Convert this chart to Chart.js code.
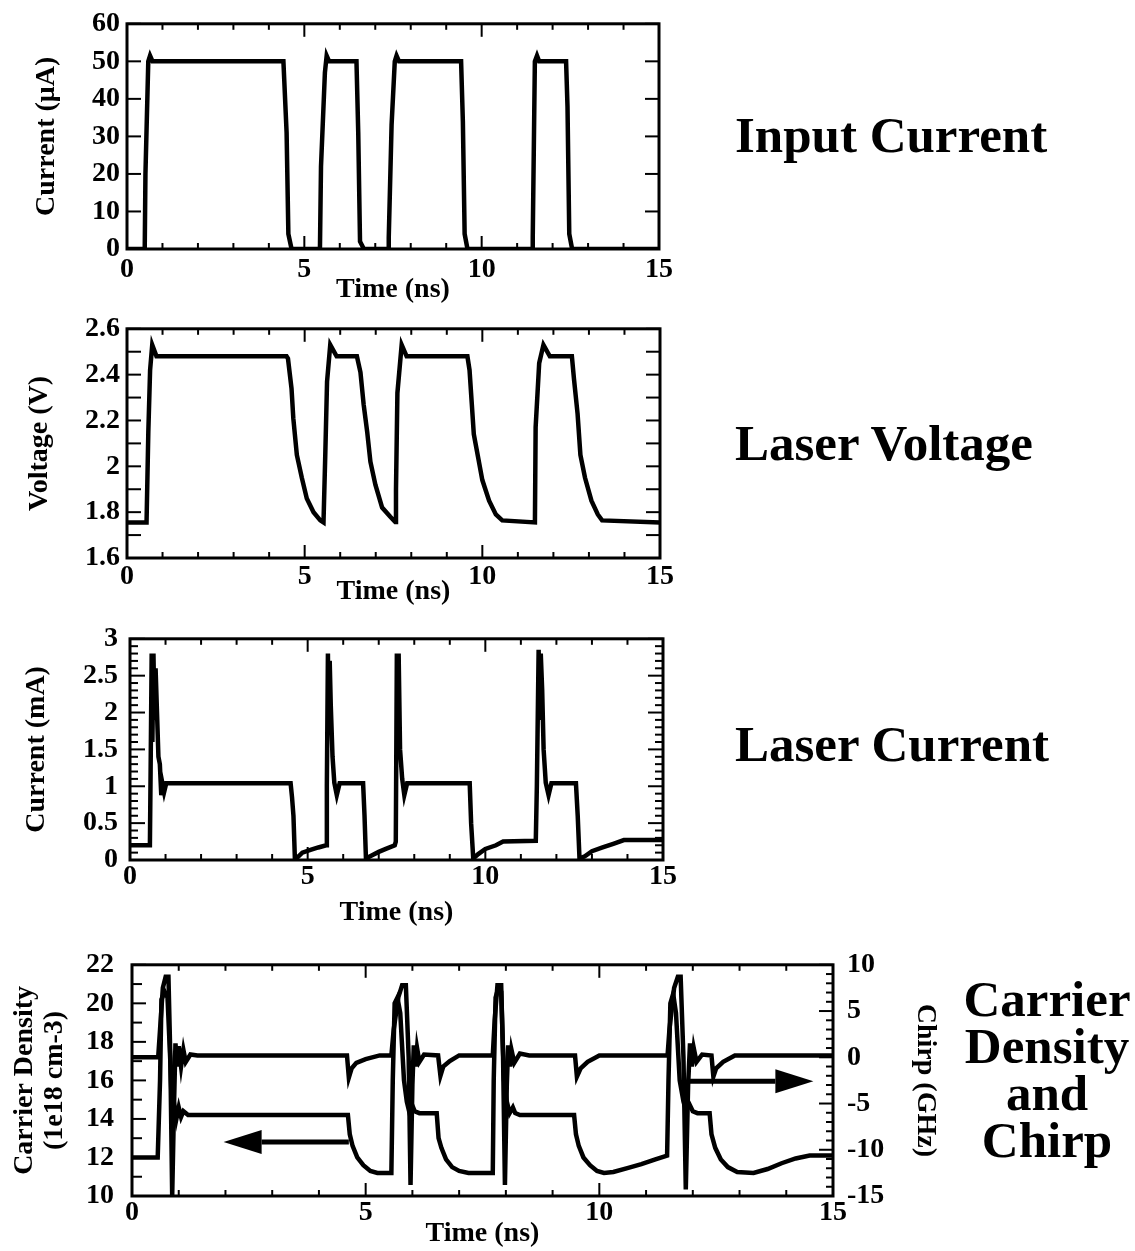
<!DOCTYPE html>
<html>
<head>
<meta charset="utf-8">
<script src="https://cdn.jsdelivr.net/npm/chart.js@4/dist/chart.umd.min.js"></script>
<style>
  html, body { margin: 0; padding: 0; background: #fff; }
  body { width: 1135px; height: 1251px; position: relative; overflow: hidden; }
  .box { position: absolute; }
  .lab { position: absolute; font-family: 'Liberation Serif', serif; font-weight: bold; font-size: 51px; line-height: 50px; color: #000; white-space: nowrap; }
</style>
</head>
<body>
<div class="box" style="left:0;top:0;width:700px;height:310px"><canvas id="c1" width="700" height="310"></canvas></div>
<div class="box" style="left:0;top:305px;width:700px;height:305px"><canvas id="c2" width="700" height="305"></canvas></div>
<div class="box" style="left:0;top:610px;width:700px;height:320px"><canvas id="c3" width="700" height="320"></canvas></div>
<div class="box" style="left:0;top:930px;width:960px;height:321px"><canvas id="c4" width="960" height="321"></canvas></div>

<div class="lab" style="left:735px;top:110px">Input Current</div>
<div class="lab" style="left:735px;top:418px">Laser Voltage</div>
<div class="lab" style="left:735px;top:719px">Laser Current</div>
<div class="lab" style="left:947px;top:976px;width:200px;text-align:center;line-height:47px">Carrier<br>Density<br>and<br>Chirp</div>

<script>
// ---------------- DATA ----------------
const timeTicks = [0, 5, 10, 15];

// Input current (uA) vs time (ns)
const inputT = [0, 0.5, 0.52, 0.6, 0.65, 0.72, 4.41, 4.5, 4.55, 4.64,
                5.44, 5.47, 5.58, 5.63, 5.7, 6.47, 6.52, 6.57, 6.68,
                7.36, 7.38, 7.46, 7.55, 7.6, 7.67, 9.42, 9.47, 9.52, 9.6,
                11.42, 11.44, 11.5, 11.56, 11.62, 12.38, 12.42, 12.47, 12.55, 15];
const inputI = [0, 0, 20, 50, 51.5, 50, 50, 31, 4, 0,
                0, 22, 47, 51.5, 50, 50, 31, 2, 0,
                0, 3, 33, 50, 51.5, 50, 50, 34, 4, 0,
                0, 3, 50, 51.5, 50, 50, 38, 4, 0, 0];
const inputTicks = [0, 10, 20, 30, 40, 50, 60];

// Laser voltage (V)
const voltT = [0, 0.55, 0.6, 0.65, 0.71, 0.83, 4.49, 4.53, 4.63, 4.68, 4.78, 4.92, 5.06, 5.25, 5.44, 5.53,
               5.58, 5.63, 5.72, 5.9, 6.47, 6.57, 6.66, 6.76, 6.85, 6.99, 7.18, 7.41, 7.55,
               7.57, 7.61, 7.73, 7.87, 9.58, 9.64, 9.7, 9.76, 9.88, 10.0, 10.19, 10.38, 10.56, 11.48,
               11.5, 11.6, 11.72, 11.9, 12.52, 12.58, 12.68, 12.76, 12.89, 13.07, 13.25, 13.37, 15];
const voltV = [1.755, 1.755, 2.15, 2.42, 2.53, 2.48, 2.48, 2.47, 2.34, 2.21, 2.05, 1.95, 1.86, 1.80, 1.764, 1.755,
               2.05, 2.37, 2.53, 2.48, 2.48, 2.41, 2.27, 2.15, 2.02, 1.92, 1.82, 1.78, 1.757,
               1.9, 2.32, 2.53, 2.48, 2.48, 2.42, 2.28, 2.14, 2.04, 1.94, 1.85, 1.79, 1.764, 1.755,
               2.17, 2.45, 2.53, 2.48, 2.48, 2.38, 2.23, 2.05, 1.95, 1.85, 1.79, 1.764, 1.755];
const voltTicks = [1.6, 1.8, 2, 2.2, 2.4, 2.6];

// Laser current (mA)
const laserT = [0, 0.56, 0.58, 0.61, 0.63, 0.66, 0.69, 0.72, 0.76, 0.8, 0.84, 0.88, 0.92, 0.96, 1.02, 4.52, 4.56, 4.6, 4.64, 4.7, 4.85, 5.1, 5.3, 5.52,
                5.54, 5.57, 5.59, 5.62, 5.65, 5.7, 5.75, 5.82, 5.9, 6.56, 6.6, 6.64, 6.8, 7.0, 7.2, 7.45,
                7.48, 7.51, 7.53, 7.56, 7.6, 7.66, 7.72, 7.8, 9.56, 9.6, 9.66, 9.8, 10.0, 10.3, 10.5, 11.42,
                11.45, 11.5, 11.53, 11.56, 11.6, 11.64, 11.7, 11.78, 11.86, 12.55, 12.6, 12.65, 12.8, 13.0, 13.3, 13.6, 13.9, 15];
const laserI = [0.2, 0.2, 1.2, 2.8, 1.6, 2.8, 1.9, 2.6, 2.0, 1.4, 1.3, 0.88, 1.02, 0.92, 1.04, 1.04, 0.85, 0.6, 0.02, 0.03, 0.1, 0.14, 0.17, 0.2,
                1.0, 2.8, 1.8, 2.7, 2.1, 1.4, 1.05, 0.88, 1.04, 1.04, 0.6, 0.02, 0.06, 0.11, 0.15, 0.2,
                0.25, 2.8, 1.9, 2.8, 1.5, 1.1, 0.88, 1.04, 1.04, 0.5, 0.02, 0.08, 0.15, 0.2, 0.25, 0.26,
                1.0, 2.85, 1.9, 2.8, 2.3, 1.5, 1.05, 0.88, 1.04, 1.04, 0.6, 0.02, 0.05, 0.12, 0.17, 0.22, 0.27, 0.27];
const laserTicks = [0, 0.5, 1, 1.5, 2, 2.5, 3];

// Carrier density (1e18 cm-3)
const densT = [0, 0.55, 0.6, 0.63, 0.7, 0.76, 0.82, 0.86, 0.9, 0.95, 1.0, 1.05, 1.1, 1.2, 4.62,
               4.66, 4.72, 4.82, 4.95, 5.1, 5.25, 5.55,
               5.58, 5.62, 5.68, 5.74, 5.82, 5.88, 5.94, 6.0, 6.05, 6.15, 6.52,
               6.56, 6.62, 6.72, 6.85, 7.0, 7.2, 7.72,
               7.74, 7.78, 7.84, 7.9, 7.96, 8.02, 8.08, 8.15, 8.2, 8.3, 9.46,
               9.5, 9.56, 9.66, 9.8, 9.95, 10.1, 10.3, 10.6, 10.9, 11.2, 11.45,
               11.48, 11.52, 11.58, 11.64, 11.72, 11.8, 11.86, 11.92, 12.0, 12.1, 12.36,
               12.4, 12.48, 12.6, 12.75, 12.95, 13.3, 13.6, 13.9, 14.2, 14.5, 15];
const densN = [12.0, 12.0, 16, 20.2, 20.6, 20.3, 17, 14.0, 14.8, 14.0, 14.6, 14.1, 14.4, 14.2, 14.2,
               13.2, 12.6, 12.0, 11.6, 11.3, 11.2, 11.2,
               16, 20.0, 20.3, 19.5, 16, 14.9, 14.3, 14.7, 14.4, 14.3, 14.3,
               13.0, 12.5, 11.9, 11.5, 11.3, 11.2, 11.2,
               16, 20.3, 20.8, 20.6, 16, 14.9, 14.3, 14.6, 14.3, 14.2, 14.2,
               13.2, 12.6, 12.0, 11.6, 11.3, 11.2, 11.25, 11.45, 11.65, 11.9, 12.1,
               16, 20.0, 20.5, 19.5, 16, 14.9, 14.4, 14.8, 14.4, 14.3, 14.3,
               13.2, 12.5, 11.9, 11.5, 11.25, 11.2, 11.4, 11.7, 11.95, 12.1, 12.1];
const densTicks = [10, 12, 14, 16, 18, 20, 22];

// Chirp (GHz)
const chirpT = [0, 0.56, 0.6, 0.66, 0.72, 0.78, 0.82, 0.86, 0.9, 0.93, 0.97, 1.0, 1.05, 1.1, 1.15, 1.25, 1.4,
                4.6, 4.64, 4.7, 4.8, 5.0, 5.3, 5.55,
                5.6, 5.7, 5.78, 5.86, 5.92, 5.96, 6.0, 6.03, 6.07, 6.1, 6.15, 6.25, 6.55,
                6.6, 6.66, 6.8, 7.0, 7.72,
                7.76, 7.82, 7.9, 7.94, 7.98, 8.02, 8.05, 8.09, 8.12, 8.18, 8.3, 8.5, 9.48,
                9.52, 9.6, 9.75, 10.0, 11.46,
                11.5, 11.6, 11.68, 11.74, 11.8, 11.85, 11.9, 11.94, 11.98, 12.02, 12.08, 12.2, 12.4,
                12.44, 12.5, 12.65, 12.9, 15];
const chirpF = [0, 0, 3, 7.5, 8.7, 8.7, 0, -15, -5, 1.5, -1, 1.2, -1, 0.8, -0.5, 0.3, 0.2,
                0.2, -2.2, -1.2, -0.6, -0.2, 0.2, 0.2,
                3, 6.5, 7.8, 7.8, 0, -13.8, -3, 1.3, -1, 1, -0.5, 0.3, 0.2,
                -2.0, -1.0, -0.4, 0.2, 0.2,
                4, 7.8, 7.8, 0, -13.8, -3, 1.3, -1, 0.8, -0.6, 0.4, 0.2, 0.2,
                -2.1, -1.2, -0.5, 0.2, 0.2,
                3, 7.5, 8.7, 8.7, 0, -14.3, -3, 1.5, -1, 1, -0.5, 0.3, 0.2,
                -2.1, -1.2, -0.5, 0.2, 0.2];
const chirpTicks = [-15, -10, -5, 0, 5, 10];

// Arrow annotations (data units): [fromTime, toTime, level]
const densityArrow = [4.64, 1.96, 12.8];
const chirpArrow = [11.9, 14.58, -2.6];

// ---------------- HELPERS ----------------
const FONT = "'Liberation Serif', 'Times New Roman', serif";
const tickFont = { family: FONT, size: 28, weight: 'bold' };
const titleFont = { family: FONT, size: 28, weight: 'bold' };
const pts = (t, v) => t.map((x, i) => ({ x: x, y: v[i] }));
const fmt = v => String(+Number(v).toFixed(2));

const framePlugin = {
  id: 'frame',
  afterDatasetsDraw(chart, args, o) {
    const { ctx, chartArea: a, scales } = chart;
    ctx.save();
    ctx.strokeStyle = '#000';
    ctx.lineCap = 'butt';
    ctx.lineWidth = 2;
    const seg = (x1, y1, x2, y2) => { ctx.beginPath(); ctx.moveTo(x1, y1); ctx.lineTo(x2, y2); ctx.stroke(); };
    const sx = scales.x;
    const n = Math.round((sx.max - sx.min) / o.x.step);
    for (let i = 0; i <= n; i++) {
      const px = sx.getPixelForValue(sx.min + i * o.x.step);
      const L = (i % o.x.every === 0) ? o.x.major : o.x.minor;
      seg(px, a.bottom, px, a.bottom - L);
      seg(px, a.top, px, a.top + L);
    }
    for (const side of ['left', 'right']) {
      const s = o[side];
      const sc = scales[s.axis];
      const m = Math.round((sc.max - sc.min) / s.step);
      for (let i = 0; i <= m; i++) {
        const py = sc.getPixelForValue(sc.min + i * s.step);
        const L = (i % s.every === 0) ? s.major : s.minor;
        if (side === 'left') seg(a.left, py, a.left + L, py);
        else seg(a.right, py, a.right - L, py);
      }
    }
    ctx.lineWidth = 3;
    ctx.strokeRect(a.left, a.top, a.right - a.left, a.bottom - a.top);
    ctx.restore();
  }
};

const arrowPlugin = {
  id: 'arrows',
  afterDatasetsDraw(chart, args, o) {
    if (!o || !o.list) return;
    const { ctx } = chart;
    ctx.save();
    ctx.fillStyle = '#000';
    ctx.strokeStyle = '#000';
    for (const ar of o.list) {
      const sx = chart.scales.x, sy = chart.scales[ar.axis];
      const x1 = sx.getPixelForValue(ar.v[0]);
      const x2 = sx.getPixelForValue(ar.v[1]);
      const y = sy.getPixelForValue(ar.v[2]);
      const dir = x2 > x1 ? 1 : -1;
      const head = 38, half = 12;
      ctx.lineWidth = 5;
      ctx.beginPath(); ctx.moveTo(x1, y); ctx.lineTo(x2 - dir * head, y); ctx.stroke();
      ctx.beginPath();
      ctx.moveTo(x2, y);
      ctx.lineTo(x2 - dir * head, y - half);
      ctx.lineTo(x2 - dir * head, y + half);
      ctx.closePath(); ctx.fill();
    }
    ctx.restore();
  }
};

function xScale(cfg) {
  return {
    type: 'linear', min: 0, max: 15, position: 'bottom',
    afterBuildTicks: s => { s.ticks = timeTicks.map(v => ({ value: v })); },
    afterFit: s => { s.height = cfg.xH; },
    ticks: { font: tickFont, color: '#000', padding: cfg.xPad, maxRotation: 0, autoSkip: false, callback: fmt },
    grid: { display: false, drawTicks: false }, border: { display: false },
    title: { display: true, text: 'Time (ns)', font: titleFont, color: '#000', padding: { top: 0, bottom: cfg.xTitlePad } }
  };
}
function yScale(cfg, pos) {
  return {
    type: 'linear', min: cfg.min, max: cfg.max, position: pos,
    afterBuildTicks: s => { s.ticks = cfg.ticks.map(v => ({ value: v })); },
    afterFit: s => { s.width = cfg.w; },
    ticks: { font: tickFont, color: '#000', padding: cfg.pad, autoSkip: false, callback: fmt },
    grid: { display: false, drawTicks: false }, border: { display: false },
    title: { display: true, text: cfg.title, font: Object.assign({}, titleFont, { lineHeight: cfg.titleLH || 1.2 }), color: '#000', padding: { top: cfg.titlePad, bottom: 0 } }
  };
}
function line(data, axis) {
  return { data: data, yAxisID: axis || 'y', borderColor: '#000', borderWidth: 4.5, pointRadius: 0, tension: 0, fill: false, borderJoinStyle: 'miter' };
}
function make(id, datasets, scales, pad, frame, extra) {
  return new Chart(document.getElementById(id), {
    type: 'line',
    data: { datasets: datasets },
    options: {
      responsive: false, animation: false, events: [],
      layout: { padding: pad },
      scales: scales,
      plugins: Object.assign({ legend: { display: false }, tooltip: { enabled: false }, frame: frame }, extra || {})
    },
    plugins: [framePlugin, arrowPlugin]
  });
}

const xTicksMarks = { step: 1, every: 5, minor: 6, major: 13 };

// Chart 1: Input current
make('c1', [line(pts(inputT, inputI))], {
  x: xScale({ xH: 61, xPad: 4, xTitlePad: 3 }),
  y: yScale({ min: 0, max: 60, ticks: inputTicks, w: 127, pad: 7, title: 'Current (\u03bcA)', titlePad: 30 }, 'left')
}, { top: 22, right: 41, left: 0, bottom: 0 }, {
  x: xTicksMarks,
  left: { axis: 'y', step: 10, every: 1, minor: 14, major: 14 },
  right: { axis: 'y', step: 10, every: 1, minor: 14, major: 14 }
});

// Chart 2: Laser voltage
make('c2', [line(pts(voltT, voltV))], {
  x: xScale({ xH: 52, xPad: 2, xTitlePad: 1 }),
  y: yScale({ min: 1.6, max: 2.6, ticks: voltTicks, w: 127, pad: 7, title: 'Voltage (V)', titlePad: 23 }, 'left')
}, { top: 21, right: 40, left: 0, bottom: 0 }, {
  x: xTicksMarks,
  left: { axis: 'y', step: 0.1, every: 1, minor: 14, major: 14 },
  right: { axis: 'y', step: 0.1, every: 1, minor: 14, major: 14 }
});

// Chart 3: Laser current
make('c3', [line(pts(laserT, laserI))], {
  x: xScale({ xH: 70, xPad: 0, xTitlePad: 0 }),
  y: yScale({ min: 0, max: 3, ticks: laserTicks, w: 130, pad: 12, title: 'Current (mA)', titlePad: 20 }, 'left')
}, { top: 24, right: 37, left: 0, bottom: 0 }, {
  x: xTicksMarks,
  left: { axis: 'y', step: 0.1, every: 5, minor: 8, major: 15 },
  right: { axis: 'y', step: 0.1, every: 5, minor: 8, major: 15 }
});

// Chart 4: Carrier density and chirp
make('c4', [line(pts(densT, densN), 'y'), line(pts(chirpT, chirpF), 'y2')], {
  x: xScale({ xH: 55, xPad: 0, xTitlePad: 0 }),
  y: yScale({ min: 10, max: 22, ticks: densTicks, w: 132, pad: 18, title: ['Carrier Density', '(1e18 cm-3)'], titlePad: 9, titleLH: 1.1 }, 'left'),
  y2: yScale({ min: -15, max: 10, ticks: chirpTicks, w: 127, pad: 14, title: 'Chirp (GHz)', titlePad: 18 }, 'right')
}, { top: 25, right: 0, left: 0, bottom: 0 }, {
  x: xTicksMarks,
  left: { axis: 'y', step: 1, every: 2, minor: 10, major: 14 },
  right: { axis: 'y2', step: 1, every: 5, minor: 7, major: 14 }
}, {
  arrows: { list: [ { axis: 'y', v: densityArrow }, { axis: 'y2', v: chirpArrow } ] }
});
</script>
</body>
</html>
